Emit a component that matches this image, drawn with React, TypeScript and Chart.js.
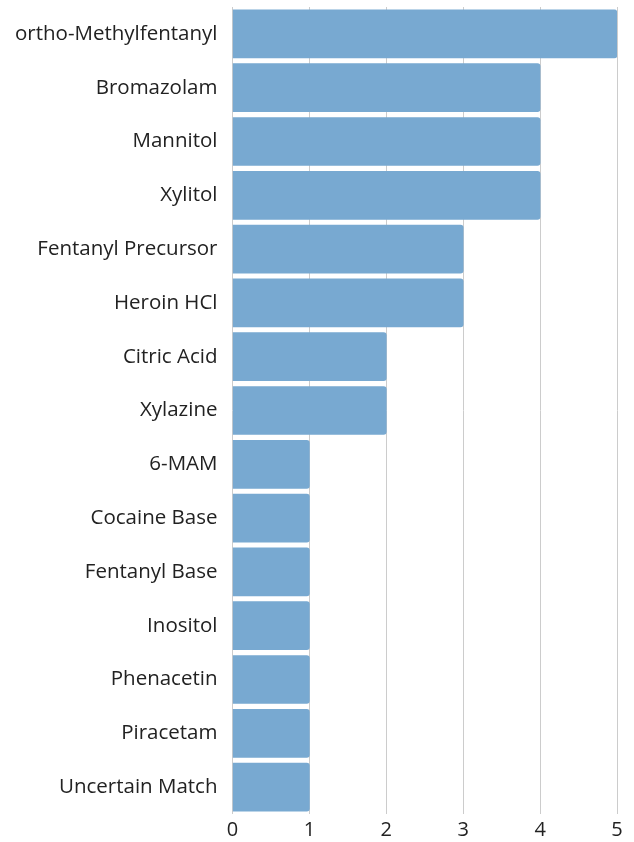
import React, { useEffect, useRef } from "react";
import { Chart, registerables } from "chart.js";

Chart.register(...registerables);

const categories = [
  "ortho-Methylfentanyl",
  "Bromazolam",
  "Mannitol",
  "Xylitol",
  "Fentanyl Precursor",
  "Heroin HCl",
  "Citric Acid",
  "Xylazine",
  "6-MAM",
  "Cocaine Base",
  "Fentanyl Base",
  "Inositol",
  "Phenacetin",
  "Piracetam",
  "Uncertain Match",
];
const counts = [5, 4, 4, 4, 3, 3, 2, 2, 1, 1, 1, 1, 1, 1, 1];

export default function App() {
  const ref = useRef<HTMLCanvasElement>(null);
  useEffect(() => {
    document.body.style.margin = "0";
    const chart = new Chart(ref.current!, {
      type: "bar",
      data: {
        labels: categories,
        datasets: [
          {
            data: counts,
            backgroundColor: "#78a9d1",
            borderWidth: 0,
            borderRadius: 3,
            borderSkipped: "start",
            barThickness: 48,
          },
        ],
      },
      options: {
        indexAxis: "y",
        animation: false,
        responsive: false,
        maintainAspectRatio: false,
        layout: { padding: { top: 7, right: 17, left: 0, bottom: 0 } },
        plugins: { legend: { display: false }, tooltip: { enabled: false } },
        scales: {
          x: {
            min: 0,
            max: 5,
            ticks: { stepSize: 1, color: "#222", font: { family: "Open Sans", size: 20 }, padding: 4 },
            grid: { color: "#cccccc", drawTicks: false },
            border: { display: false },
            afterFit: (s: any) => {
              s.height = 28;
            },
          },
          y: {
            ticks: { color: "#222", font: { family: "Open Sans", size: 20.5 }, padding: 15 },
            grid: { display: false, drawTicks: false },
            border: { display: false },
            afterFit: (s: any) => {
              s.paddingTop = 0;
              s.paddingBottom = 0;
            },
          },
        },
      },
    });
    return () => chart.destroy();
  }, []);
  return (
    <div style={{ width: 634, height: 842 }}>
      <canvas ref={ref} width={634} height={842} style={{ width: 634, height: 842 }} />
    </div>
  );
}
